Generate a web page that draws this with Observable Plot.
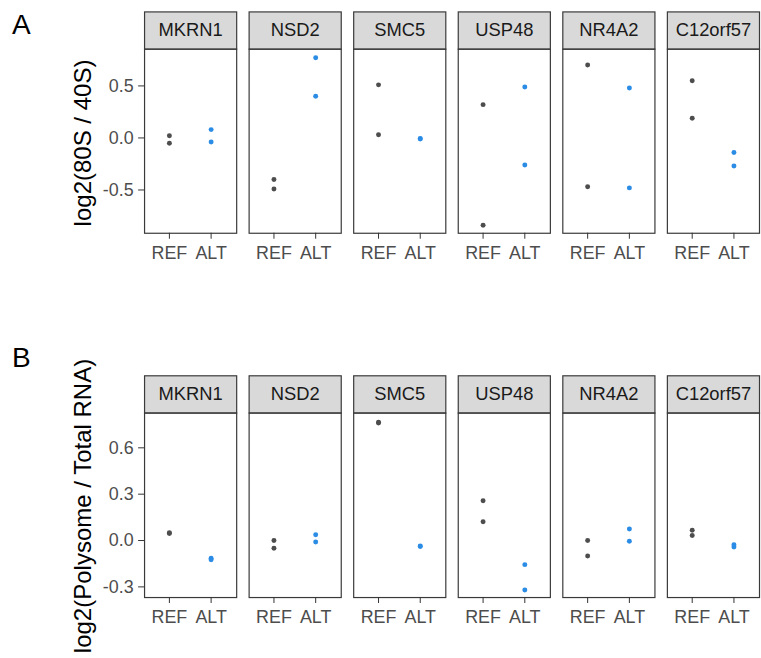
<!DOCTYPE html>
<html>
<head>
<meta charset="utf-8">
<script src="https://cdn.jsdelivr.net/npm/d3@7"></script>
<script src="https://cdn.jsdelivr.net/npm/@observablehq/plot@0.6"></script>
<style>
  html, body { margin: 0; padding: 0; background: #fff; overflow: hidden; }
  #root { position: relative; width: 761px; height: 658px; overflow: hidden; font-family: "Liberation Sans", Arial, sans-serif; }
  .chart { position: absolute; left: 0; }
  .ytitle { position: absolute; white-space: nowrap; line-height: 1; font-size: 24px; color: #000;
            transform: translate(-50%, -50%) rotate(-90deg); }
  .tag { position: absolute; line-height: 1; font-size: 28px; color: #000; }
</style>
</head>
<body>
<div id="root"></div>
<script>
// ---------------- data ----------------
const genes = ["MKRN1", "NSD2", "SMC5", "USP48", "NR4A2", "C12orf57"];
const alleles = ["REF", "ALT"];
const titleA = "log2(80S / 40S)";
const titleB = "log2(Polysome / Total RNA)";
const ticksA = [-0.5, 0, 0.5];
const ticksB = [-0.3, 0, 0.3, 0.6];
// panel A: two replicates per gene and allele
const a_ref = [[0.02, -0.05], [-0.40, -0.49], [0.51, 0.03], [0.32, -0.84], [0.70, -0.47], [0.55, 0.19]];
const a_alt = [[0.08, -0.04], [0.77, 0.40], [-0.005, -0.01], [0.49, -0.26], [0.48, -0.48], [-0.14, -0.27]];
// panel B
const b_ref = [[0.05, 0.045], [0.0, -0.05], [0.765, 0.76], [0.257, 0.122], [0.0, -0.10], [0.067, 0.032]];
const b_alt = [[-0.115, -0.125], [0.037, -0.01], [-0.035, -0.038], [-0.156, -0.32], [0.075, -0.004], [-0.028, -0.042]];

function rows(ref, alt) {
  const out = [];
  genes.forEach((g, i) => {
    ref[i].forEach(v => out.push({gene: g, allele: "REF", value: v}));
    alt[i].forEach(v => out.push({gene: g, allele: "ALT", value: v}));
  });
  return out;
}

// ---------------- layout ----------------
const W = 766;
const stripH = 37.5;
const font = "'Liberation Sans', Arial, sans-serif";

function panel({data, domain, ticks, top, height, marginTop, marginBottom}) {
  const plotH = height - marginTop - marginBottom;
  const chart = Plot.plot({
    width: W,
    height,
    marginLeft: 145,
    marginRight: 2,
    marginTop,
    marginBottom,
    style: {fontFamily: font, background: "transparent", overflow: "visible"},
    fx: {domain: genes, paddingInner: 0.119, paddingOuter: 0, round: false, axis: null, label: null},
    x: {type: "point", domain: alleles, padding: 0.6, axis: null, label: null},
    y: {domain, axis: null, label: null},
    color: {domain: alleles, range: ["#4d4d4d", "#2b8ce6"]},
    marks: [
      // strip
      Plot.frame({fill: "#d9d9d9", stroke: "#3a3a3a", strokeWidth: 1.2, insetTop: -stripH, insetBottom: plotH}),
      Plot.text(genes, {fx: d => d, text: d => d, frameAnchor: "top", lineAnchor: "middle",
                        dy: -stripH / 2, fontSize: 18.5, fill: "#1a1a1a"}),
      Plot.dot(data, {fx: "gene", x: "allele", y: "value", fill: "allele", r: 2.5}),
      Plot.frame({stroke: "#3a3a3a", strokeWidth: 1.2}),
      Plot.axisY({ticks, tickFormat: d => d.toFixed(1), tickSize: 6, tickPadding: 5, fontSize: 18,
                  fill: "#4d4d4d", stroke: "#333", label: null}),
      Plot.axisX({anchor: "bottom", tickSize: 6, tickPadding: 7, fontSize: 18,
                  fill: "#4d4d4d", stroke: "#333", label: null})
    ]
  });
  chart.classList.add("chart");
  chart.style.top = top + "px";
  return chart;
}

const root = document.getElementById("root");

root.appendChild(panel({
  data: rows(a_ref, a_alt), domain: [-0.916, 0.853], ticks: ticksA,
  top: 0, height: 300, marginTop: 49, marginBottom: 300 - 234.3
}));
root.appendChild(panel({
  data: rows(b_ref, b_alt), domain: [-0.369, 0.825], ticks: ticksB,
  top: 300, height: 358, marginTop: 113.3, marginBottom: 358 - 299
}));

function addDiv(cls, text, css) {
  const d = document.createElement("div");
  d.className = cls;
  d.textContent = text;
  Object.assign(d.style, css);
  root.appendChild(d);
}
addDiv("ytitle", titleA, {left: "83px", top: "143px"});
addDiv("ytitle", titleB, {left: "83px", top: "506px"});
addDiv("tag", "A", {left: "12px", top: "11px"});
addDiv("tag", "B", {left: "12px", top: "344px"});
</script>
</body>
</html>
